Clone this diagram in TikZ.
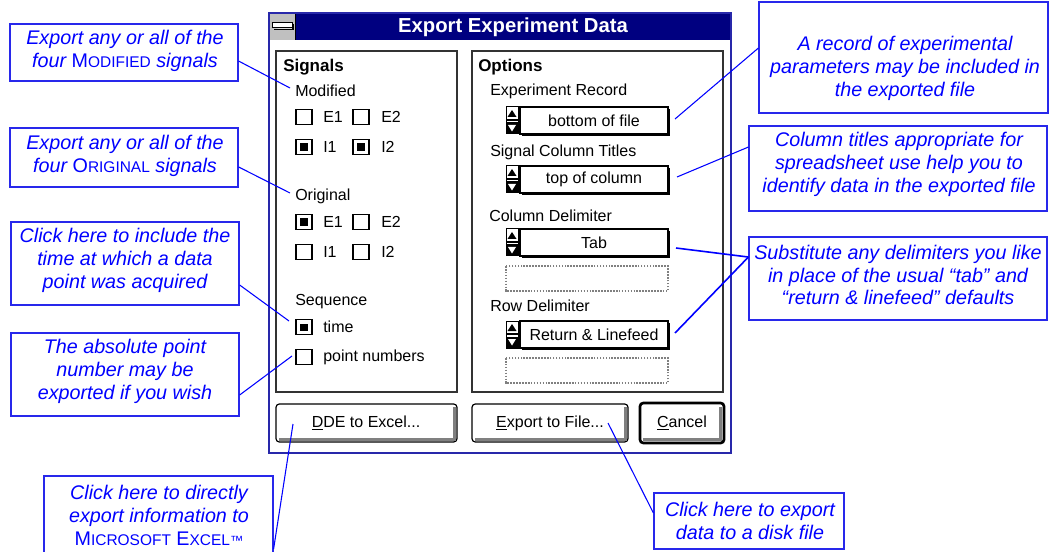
\documentclass[tikz,border=0pt]{standalone}
\usepackage{fontspec}
\setmainfont{Liberation Sans}
\usetikzlibrary{calc}
\definecolor{navy}{RGB}{0,0,128}
\definecolor{callblue}{RGB}{0,0,255}
\definecolor{frameblue}{RGB}{40,40,235}
\definecolor{winline}{RGB}{40,40,170}
\definecolor{shade}{RGB}{128,128,128}
\definecolor{btnface}{RGB}{192,192,192}
% fake small capitals: first letter full size, rest reduced, upright
\newcommand\smcap[2]{{\upshape #1{\fontsize{11.6}{0}\selectfont #2}}}
\begin{document}
\begin{tikzpicture}[x=0.75pt,y=-0.75pt,
  callframe/.style={draw=frameblue, line width=0.9pt, inner sep=0pt, rectangle},
  callsize/.style 2 args={minimum width=#1*0.75pt, minimum height=#2*0.75pt},
  calltext/.style={text=callblue, font=\fontsize{14.8}{17.2}\selectfont\itshape, align=center, inner sep=0pt},
  link/.style={draw=callblue, line width=0.8pt},
  boldlink/.style={draw=callblue, line width=1.2pt},
  uitext/.style={font=\fontsize{12}{14}\selectfont, inner sep=0pt, anchor=west},
  uibold/.style={font=\fontsize{12.75}{14}\selectfont\bfseries, inner sep=0pt, anchor=west},
  fieldtext/.style={font=\fontsize{12}{14}\selectfont, inner sep=0pt},
  groupline/.style={draw=black!80, line width=1.3pt},
  checkline/.style={draw=black, line width=0.9pt},
  button/.style={draw=black, line width=0.9pt, fill=white, rounded corners=2.5pt},
  btnshade/.style={draw=shade, line width=2pt},
  dotfield/.style={draw=gray, densely dotted, line width=1.2pt}]
\useasboundingbox (0,0) rectangle (1049,552);
\clip (0,0) rectangle (1049,552);

% ---- dialog window ----
\fill[white] (269,13) rectangle (731,453);
\fill[navy] (269,13) rectangle (731,40);
\fill[btnface] (269,13) rectangle (295,40);
\draw[black, line width=0.75pt] (295,13) -- (295,40);
\draw[shade, line width=1.2pt] (274,29.5) -- (293,29.5) -- (293,24);
\draw[black, fill=white, line width=0.75pt] (272.5,23) rectangle (292,28);
\draw[winline, line width=1pt] (269,13) rectangle (731,453);
\node[font=\fontsize{15.2}{18}\selectfont\bfseries, text=white, inner sep=0pt] (title) at (513,27) {Export Experiment Data};

% ---- group boxes ----
\draw[groupline] (276,51) rectangle (457,392);
\draw[groupline] (472,51) rectangle (723,392);
\node[uibold] (sig) at (283,67) {Signals};
\node[uibold] (opt) at (478,67) {Options};

% ---- signal check boxes ----
\node[uitext] (mod) at (295,91) {Modified};
\node[uitext] (org) at (295,196) {Original};
\node[uitext] (seq) at (295,302) {Sequence};
\foreach \x/\y/\on in {296/117/0, 353/117/0, 296/147/1, 353/147/1,
                        296/222/1, 353/222/0, 296/252/0, 353/252/0,
                        296/327/1, 296/357/0} {
  \draw[checkline] (\x,\y-7.5) rectangle (\x+16,\y+7.5);
  \ifnum\on=1 \fill (\x+4,\y-3.5) rectangle (\x+12,\y+4); \fi
}
\foreach \y in {117,222} {
  \node[uitext] at (323,\y) {E1};
  \node[uitext] at (381,\y) {E2};
}
\foreach \y in {147,252} {
  \node[uitext] at (323,\y) {I1};
  \node[uitext] at (381,\y) {I2};
}
\node[uitext] (tm) at (323,327) {time};
\node[uitext] (pn) at (323,357) {point numbers};

% ---- option fields ----
\node[uitext] at (490,91) {Experiment Record};
\node[uitext] at (490,152) {Signal Column Titles};
\node[uitext] at (489,216) {Column Delimiter};
\node[uitext] at (490,306) {Row Delimiter};
\foreach \y/\txt in {107/bottom of file, 166/top of column, 229/Tab, 321/Return \& Linefeed} {
  % spin control
  \draw[black, fill=white, line width=0.75pt] (506,\y) rectangle (518,\y+27);
  \fill (507.5,\y+10) -- (516.5,\y+10) -- (512,\y+3) -- cycle;
  \fill (506,\y+12) rectangle (518,\y+14);
  \fill (506,\y+15.5) rectangle (518,\y+27);
  \fill[white] (508,\y+18) -- (516,\y+18) -- (512,\y+24.5) -- cycle;
  % edit field
  \draw[shade, line width=1.2pt] (522,\y+28.5) -- (669.5,\y+28.5) -- (669.5,\y+2);
  \draw[black, fill=white, line width=0.9pt] (520,\y) rectangle (668,\y+27);
  \node[fieldtext] at (594,\y+13.5) {\txt};
}
\draw[dotfield] (506,266) rectangle (668,291);
\draw[dotfield] (506,358) rectangle (668,383);

% ---- buttons ----
\draw[button] (276,404) rectangle (457,442);
\draw[btnshade] (279,439.5) -- (454.5,439.5) -- (454.5,407);
\node[fieldtext] (dde) at (366,423) {\underline{D}DE to Excel...};
\draw[button] (472,404) rectangle (628,442);
\draw[btnshade] (475,439.5) -- (625.5,439.5) -- (625.5,407);
\node[fieldtext] (exp) at (550,423) {\underline{E}xport to File...};
\draw[button, line width=2pt] (640,403) rectangle (724,443);
\draw[btnshade] (643,439.5) -- (720.5,439.5) -- (720.5,407);
\node[fieldtext] (cnl) at (682,423) {\underline{C}ancel};

% ---- callouts ----
\node[callframe, callsize={228}{57}] (c1) at (124,52.5) {};
\node[calltext] at (125,51) {Export any or all of the\\four \smcap{M}{ODIFIED} signals};
\node[callframe, callsize={228}{59}] (c2) at (124,157.5) {};
\node[calltext] at (125,155.5) {Export any or all of the\\four \smcap{O}{RIGINAL} signals};
\node[callframe, callsize={228}{83}] (c3) at (125,263.5) {};
\node[calltext] at (125,260) {Click here to include the\\time at which a data\\point was acquired};
\node[callframe, callsize={228}{83}] (c4) at (125,374.5) {};
\node[calltext] at (125,371) {The absolute point\\number may be\\exported if you wish};
\node[callframe, callsize={229}{83}] (c5) at (158.5,517.5) {};
\node[calltext] at (159,515) {Click here to directly\\export information to\\\smcap{M}{ICROSOFT} \smcap{E}{XCEL}{\upshape\fontsize{10}{0}\selectfont ™}};
\node[callframe, callsize={289}{111}] (c6) at (903.5,57.5) {};
\node[calltext] at (905,68) {A record of experimental\\parameters may be included in\\the exported file};
\node[callframe, callsize={298}{85}] (c7) at (898,168.5) {};
\node[calltext] at (899,164.5) {Column titles appropriate for\\spreadsheet use help you to\\identify data in the exported file};
\node[callframe, callsize={298}{83}] (c8) at (898,278.5) {};
\node[calltext] at (898,275) {Substitute any delimiters you like\\in place of the usual “tab” and\\“return \& linefeed” defaults};
\node[callframe, callsize={190}{56}] (c9) at (749,521) {};
\node[calltext] at (750,520.5) {Click here to export\\data to a disk file};

% ---- connector targets inside the dialog ----
\coordinate (p1) at (290,88);
\coordinate (p2) at (290,193);
\coordinate (p3) at (289,321);
\coordinate (p4) at (292,356);
\coordinate (p5) at (293,424);
\coordinate (p6) at (675,119);
\coordinate (p7) at (677,177);
\coordinate (p8a) at (676,248);
\coordinate (p8b) at (675,333);
\coordinate (p9) at (608,423);

\draw[link] ([yshift=-6.4pt]c1.east) -- (p1);
\draw[link] ([yshift=-7.1pt]c2.east) -- (p2);
\draw[link] ([yshift=-16.1pt]c3.east) -- (p3);
\draw[link] ([yshift=-15.4pt]c4.east) -- (p4);
\draw[link] ([yshift=-23.6pt]c5.east) -- (p5);
\draw[link] ([yshift=7.1pt]c6.west) -- (p6);
\draw[link] ([yshift=16.1pt]c7.west) -- (p7);
\draw[boldlink] ([yshift=16.1pt]c8.west) -- (p8a);
\draw[boldlink] ([yshift=16.1pt]c8.west) -- (p8b);
\draw[link] ([yshift=6pt]c9.west) -- (p9);
\end{tikzpicture}
\end{document}
